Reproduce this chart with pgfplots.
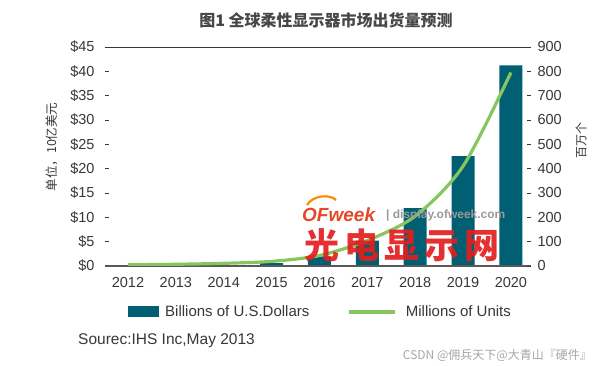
\documentclass[border=0pt]{standalone}
\usepackage{pgfplots}
\pgfplotsset{compat=1.18}
\usepackage{fontspec}
\setmainfont{Liberation Sans}
\newfontfamily\cjk{Noto Sans CJK SC}
\definecolor{barc}{RGB}{0,95,115}
\definecolor{linec}{RGB}{134,198,92}
\definecolor{txt}{RGB}{55,55,55}
\definecolor{ofred}{RGB}{232,70,40}
\definecolor{wmred}{RGB}{226,30,30}
\begin{document}
\begin{tikzpicture}[x=1pt,y=1pt]
\path (0,0) rectangle (603,366);
\node[font=\cjk\bfseries\fontsize{16}{18}\selectfont, text=black!72] at (326,346) {图1\ 全球柔性显示器市场出货量预测};
\node[font=\cjk\fontsize{12.5}{14}\selectfont, text=txt, rotate=90] at (52,219) {单位，10亿美元};
\node[font=\cjk\fontsize{12}{14}\selectfont, text=txt, rotate=90] at (581,225) {百万个};
\begin{axis}[
  at={(105pt,100pt)}, anchor=south west, scale only axis,
  width=426pt, height=219pt,
  xmin=-0.48, xmax=8.42, ymin=0, ymax=45,
  axis line style={draw=none},
  ytick={0,5,...,45}, ytick pos=left,
  yticklabel={\$\pgfmathprintnumber{\tick}},
  xtick={0,...,8}, xticklabels={2012,2013,2014,2015,2016,2017,2018,2019,2020},
  xtick pos=bottom,
  tick align=inside, major tick length=4pt,
  xtick style={draw=none},
  ytick style={draw=txt, line width=0.8pt},
  tick label style={font=\fontsize{14.5}{16}\selectfont, text=txt},
  yticklabel style={xshift=-7pt},
  xticklabel style={yshift=-8pt},
  /pgf/number format/assume math mode=true,
  legend columns=2,
  legend style={at={(0.506,-0.21)}, anchor=center, draw=none, fill=none,
    font=\fontsize{15}{17}\selectfont, text=txt,
    /tikz/every even column/.append style={column sep=36pt}},
  legend cell align=left,
  clip=false,
]
\addplot[ybar, bar width=23pt, fill=barc, draw=none,
  legend image code/.code={\fill[barc] (0pt,-5.5pt) rectangle (31pt,5.5pt);}]
  coordinates {(0,0) (1,0.05) (2,0.15) (3,0.6) (4,2.0) (5,5.2) (6,11.9) (7,22.6) (8,41.2)};
\addlegendentry{\hspace{4pt}Billions of U.S.Dollars}
\addlegendimage{legend image code/.code={\draw[linec, line width=3.5pt] (0pt,0pt) -- (46pt,0pt);}}
\addlegendentry{\hspace{7pt}Millions of Units}
\draw[txt, line width=0.9pt] (rel axis cs:0,1) -- (rel axis cs:1,1);
\draw[black!65, line width=1.2pt] (rel axis cs:0,0) -- (rel axis cs:1,0);
\end{axis}
\begin{axis}[
  at={(105pt,100pt)}, anchor=south west, scale only axis,
  width=426pt, height=219pt,
  xmin=-0.48, xmax=8.42, ymin=0, ymax=900,
  hide x axis,
  axis y line*=right,
  axis line style={draw=none},
  ytick={0,100,...,900},
  tick align=inside, major tick length=4pt,
  ytick style={draw=txt, line width=0.8pt},
  tick label style={font=\fontsize{14.5}{16}\selectfont, text=txt},
  yticklabel style={xshift=3pt},
  /pgf/number format/assume math mode=true,
]
\addplot[linec, line width=3.2pt, smooth, no marks]
  coordinates {(0,5) (1,7) (2,11) (3,19) (4,43) (5,105) (6,205) (7,410) (8,795)};
\end{axis}
% watermark
\draw[orange!90!yellow, line width=2.2pt] (307,161) .. controls (313,171) and (330,172) .. (336,166);
\node[font=\bfseries\itshape\fontsize{19}{20}\selectfont, text=ofred, anchor=west, inner sep=0] at (302,151) {OFweek};
\node[font=\bfseries\fontsize{12}{13}\selectfont, text=gray!80, anchor=west, inner sep=0] at (386,151) {|\ display.ofweek.com};
\node[font=\cjk\bfseries\fontsize{35}{40}\selectfont, text=wmred, opacity=0.92, inner sep=0] at (402,121) {光\hspace{5pt}电\hspace{5pt}显\hspace{5pt}示\hspace{5pt}网};
\node[font=\fontsize{15.5}{17}\selectfont, text=txt, anchor=west, inner sep=0] at (78,25) {Sourec:IHS Inc,May 2013};
\node[font=\cjk\fontsize{12}{13}\selectfont, text=black!35, anchor=east, inner sep=0] at (592,11) {CSDN @佣兵天下@大青山『硬件』};
\end{tikzpicture}
\end{document}
